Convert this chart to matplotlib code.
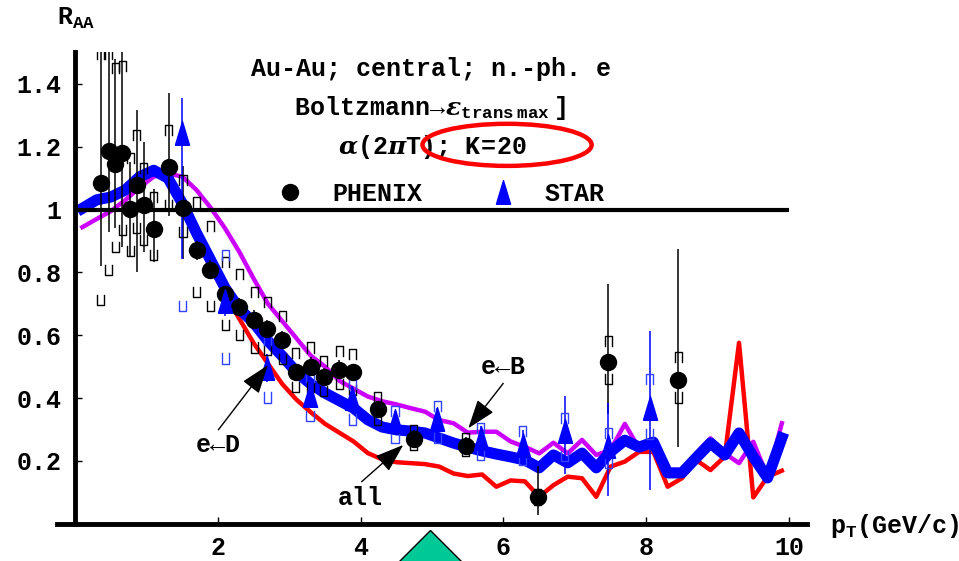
import matplotlib
matplotlib.use('Agg')
import matplotlib.pyplot as plt
from matplotlib.patches import Ellipse, Rectangle

plt.rcParams['font.family'] = ['Liberation Mono', 'DejaVu Sans']
plt.rcParams['font.weight'] = 'bold'
plt.rcParams['mathtext.fontset'] = 'custom'
plt.rcParams['mathtext.rm'] = 'Liberation Mono:bold'
plt.rcParams['mathtext.bf'] = 'Liberation Mono:bold'
plt.rcParams['mathtext.it'] = 'DejaVu Serif:italic'

# theory curves (R_AA vs pT)
pt_grid = [0.1, 0.3, 0.5, 0.7, 0.9, 1.1, 1.3, 1.5, 1.7, 1.9,
           2.1, 2.3, 2.5, 2.7, 2.9, 3.1, 3.3, 3.5, 3.7, 3.9,
           4.1, 4.3, 4.5, 4.7, 4.9, 5.1, 5.3, 5.5, 5.7, 5.9,
           6.1, 6.3, 6.5, 6.7, 6.9, 7.1, 7.3, 7.5, 7.7, 7.9,
           8.1, 8.3, 8.5, 8.7, 8.9, 9.1, 9.3, 9.5, 9.7, 9.9]
raa_all = [1.004, 1.031, 1.04, 1.062, 1.104, 1.125, 1.10, 1.02, 0.925, 0.838,
           0.75, 0.684, 0.64, 0.582, 0.534, 0.483, 0.445, 0.416, 0.392, 0.368,
           0.331, 0.308, 0.299, 0.295, 0.289, 0.273, 0.257, 0.244, 0.232, 0.222,
           0.213, 0.203, 0.178, 0.219, 0.194, 0.225, 0.178, 0.229, 0.266, 0.244,
           0.26, 0.162, 0.162, 0.21, 0.257, 0.219, 0.289, 0.213, 0.146, 0.273]
raa_d = [0.944, 0.97, 0.995, 1.03, 1.07, 1.105, 1.115, 1.105, 1.062, 1.005,
         0.94, 0.865, 0.78, 0.70, 0.645, 0.59, 0.535, 0.50, 0.455, 0.43,
         0.405, 0.39, 0.38, 0.368, 0.357, 0.33, 0.32, 0.29, 0.293, 0.293,
         0.262, 0.245, 0.224, 0.258, 0.224, 0.267, 0.219, 0.235, 0.318, 0.24,
         0.261, 0.171, 0.171, 0.224, 0.272, 0.224, 0.193, 0.261, 0.15, 0.32]
raa_b = [1.0, 1.03, 1.04, 1.06, 1.10, 1.12, 1.095, 1.01, 0.91, 0.815,
         0.73, 0.652, 0.575, 0.51, 0.445, 0.395, 0.355, 0.318, 0.29, 0.262,
         0.225, 0.205, 0.196, 0.193, 0.19, 0.182, 0.16, 0.152, 0.157, 0.118,
         0.138, 0.135, 0.086, 0.123, 0.15, 0.145, 0.086, 0.182, 0.198, 0.229,
         0.229, 0.118, 0.145, 0.203, 0.171, 0.214, 0.576, 0.084, 0.15, 0.169]

# PHENIX non-photonic electrons
phenix_pt = [0.36, 0.47, 0.56, 0.66, 0.77, 0.86, 0.96, 1.10, 1.31, 1.51,
             1.70, 1.89, 2.10, 2.30, 2.51, 2.69, 2.90, 3.09, 3.30, 3.48,
             3.70, 3.89, 4.24, 4.74, 5.47, 6.48, 7.47, 8.45]
phenix_raa = [1.085, 1.186, 1.145, 1.179, 1.001, 1.078, 1.016, 0.937, 1.136, 1.006,
              0.872, 0.809, 0.731, 0.689, 0.649, 0.620, 0.585, 0.483, 0.499, 0.467,
              0.490, 0.483, 0.364, 0.271, 0.249, 0.084, 0.515, 0.458]
phenix_stat_lo = [0.82, 0.93, 0.94, 0.88, 0.85, 0.80, 0.865, 0.833, 0.978, 0.843,
                  0.84, 0.78, 0.70, 0.66, 0.62, 0.59, 0.555, 0.455, 0.47, 0.44,
                  0.46, 0.455, 0.34, 0.245, 0.225, 0.029, 0.348, 0.243]
phenix_stat_hi = [1.50, 1.50, 1.48, 1.50, 1.15, 1.317, 1.216, 1.067, 1.37, 1.14,
                  0.90, 0.84, 0.76, 0.72, 0.68, 0.65, 0.615, 0.51, 0.53, 0.495,
                  0.52, 0.51, 0.39, 0.30, 0.275, 0.183, 0.764, 0.875]
phenix_sys_lo = [0.697, 0.792, 0.865, 0.918, 0.852, 0.926, 0.886, 0.838, 1.0, 0.913,
                 0.721, 0.678, 0.617, 0.585, 0.545, 0.537, 0.508, 0.419, 0.42, 0.407,
                 0.428, 0.41, 0.316, 0.234, 0.215, 0.06, 0.444, 0.386]
phenix_sys_hi = [1.51, 1.51, 1.466, 1.473, 1.18, 1.253, 1.147, 1.056, 1.269, 1.11,
                 1.041, 0.963, 0.85, 0.812, 0.753, 0.721, 0.678, 0.561, 0.577, 0.535,
                 0.565, 0.556, 0.418, 0.316, 0.29, 0.11, 0.598, 0.546]

# STAR non-photonic electrons
star_pt = [1.50, 2.10, 2.69, 3.29, 3.88, 4.48, 5.07, 5.68, 6.27, 6.86, 7.47, 8.05]
star_raa = [1.243, 0.708, 0.495, 0.41, 0.40, 0.327, 0.332, 0.274, 0.252, 0.295, 0.247, 0.37]
star_stat_lo = [0.843, 0.66, 0.45, 0.37, 0.36, 0.30, 0.30, 0.24, 0.21, 0.157, 0.087, 0.109]
star_stat_hi = [1.355, 0.76, 0.54, 0.45, 0.44, 0.36, 0.37, 0.31, 0.30, 0.407, 0.386, 0.614]
star_sys_lo = [0.678, 0.51, 0.386, 0.327, 0.316, 0.258, 0.258, 0.204, 0.188, 0.20, 0.178, 0.27]
star_sys_hi = [1.56, 0.87, 0.60, 0.482, 0.46, 0.375, 0.391, 0.322, 0.311, 0.354, 0.306, 0.476]

W, H = 959, 561
fig = plt.figure(figsize=(W / 100, H / 100), dpi=100)
ax = fig.add_axes([0, 0, 1, 1])
ax.set_xlim(-1.054, 12.382)
ax.set_ylim(-0.1184, 1.667)

clip = Rectangle((-1, -1), 13, 2.502, transform=ax.transData)


def brackets(xs, lo, hi, color):
    w, h = 0.05, 0.032
    for x, a, b in zip(xs, lo, hi):
        for y0, d in ((b, -h), (a, h)):
            ln, = ax.plot([x - w, x - w, x + w, x + w], [y0 + d, y0, y0, y0 + d],
                          color=color, lw=1.0, zorder=3)
            ln.set_clip_path(clip)


ax.plot(pt_grid, raa_b, color='#ff0000', lw=3.2, zorder=2)
ax.plot(pt_grid, raa_d, color='#cc00ff', lw=3.2, zorder=2)
ax.plot(pt_grid, raa_all, color='#0000ff', lw=8, zorder=2.5, solid_joinstyle='round')
ax.hlines(1, 0, 10, color='k', lw=3, zorder=2.6)

vl = ax.vlines(phenix_pt, phenix_stat_lo, phenix_stat_hi, color='k', lw=1.1, zorder=3)
vl.set_clip_path(clip)
vl = ax.vlines(star_pt, star_stat_lo, star_stat_hi, color='#0000ff', lw=1.1, zorder=3)
vl.set_clip_path(clip)
brackets(phenix_pt, phenix_sys_lo, phenix_sys_hi, 'k')
brackets(star_pt, star_sys_lo, star_sys_hi, '#3344ff')

tri = [(-0.3, -0.5), (0.3, -0.5), (0, 0.5), (-0.3, -0.5)]
ax.plot(phenix_pt, phenix_raa, 'o', color='k', ms=11.5, ls='none', zorder=4, label='PHENIX')
ax.plot(star_pt, star_raa, marker=tri, color='#0000ff', ms=17, ls='none', zorder=4, label='STAR')

ax.legend(loc='center left', bbox_to_anchor=(277.5 / W, 1 - 194 / H),
          bbox_transform=fig.transFigure, ncol=2, frameon=False,
          handlelength=1.0, handletextpad=1.2, columnspacing=2.7,
          borderpad=0, borderaxespad=0, fontsize=18)

# axes in the Mathematica style, crossing at the origin
for s in ['top', 'right']:
    ax.spines[s].set_visible(False)
ax.spines['left'].set_position(('data', 0))
ax.spines['bottom'].set_position(('data', 0))
ax.spines['left'].set_bounds(0, 1.502)
ax.spines['bottom'].set_bounds(-0.255, 10.25)
ax.spines['left'].set_linewidth(3.5)
ax.spines['bottom'].set_linewidth(3.5)
ax.set_xticks([2, 4, 6, 8, 10])
ax.set_yticks([0.2, 0.4, 0.6, 0.8, 1.0, 1.2, 1.4],
              labels=['0.2', '0.4', '0.6', '0.8', '1', '1.2', '1.4'])
ax.tick_params(direction='in', length=5, width=1, labelsize=18)
ax.tick_params(axis='y', pad=10)
ax.tick_params(axis='x', pad=9)

ax.text(57 / W, 1 - 25 / H, r'$\mathrm{R_{AA}}$', transform=fig.transFigure,
        fontsize=18, ha='left', va='baseline')
ax.text(830 / W, 1 - 533 / H, r'$\mathrm{p_T(GeV/c)}$', transform=fig.transFigure,
        fontsize=18, ha='left', va='baseline')

ax.text(431 / W, 1 - 76 / H, 'Au-Au; central; n.-ph. e', transform=fig.transFigure,
        fontsize=18, ha='center', va='baseline')
ax.text(430 / W, 1 - 115 / H, r'$\mathrm{Boltzmann}\!\rightarrow\!\epsilon_{\mathrm{trans\,max}}\mathrm{\,]}$',
        transform=fig.transFigure, fontsize=18, ha='center', va='baseline')
ax.text(432 / W, 1 - 154 / H, r'$\alpha\mathrm{(2}\pi\mathrm{T);\ K}\!=\!\mathrm{20}$',
        transform=fig.transFigure, fontsize=18, ha='center', va='baseline')
ax.add_patch(Ellipse((6.05, 1.206), 2.37, 0.134, fill=False, ec='#ff0000', lw=3.2, zorder=6))

arrow = dict(arrowstyle='-|>,head_length=1.0,head_width=0.35', color='k', lw=1,
             shrinkA=0, shrinkB=0, mutation_scale=18)
ax.annotate('', xy=(2.70, 0.505), xytext=(2.005, 0.299), arrowprops=arrow, zorder=5)
ax.annotate('', xy=(4.596, 0.251), xytext=(4.013, 0.134), arrowprops=arrow, zorder=5)
ax.annotate('', xy=(5.507, 0.304), xytext=(5.997, 0.447), arrowprops=arrow, zorder=5)
ax.text(218 / W, 1 - 452 / H, 'e←D', transform=fig.transFigure, fontsize=18,
        ha='center', va='baseline')
ax.text(360 / W, 1 - 505 / H, 'all', transform=fig.transFigure, fontsize=18,
        ha='center', va='baseline')
ax.text(503 / W, 1 - 374 / H, 'e←B', transform=fig.transFigure, fontsize=18,
        ha='center', va='baseline')

# slide navigation marker at the bottom
ax.plot([4.97], [-0.144], marker='D', ms=40, color='#00c896', mec='k', mew=1,
        clip_on=False, zorder=6)

fig.savefig('out.png', dpi=100)
